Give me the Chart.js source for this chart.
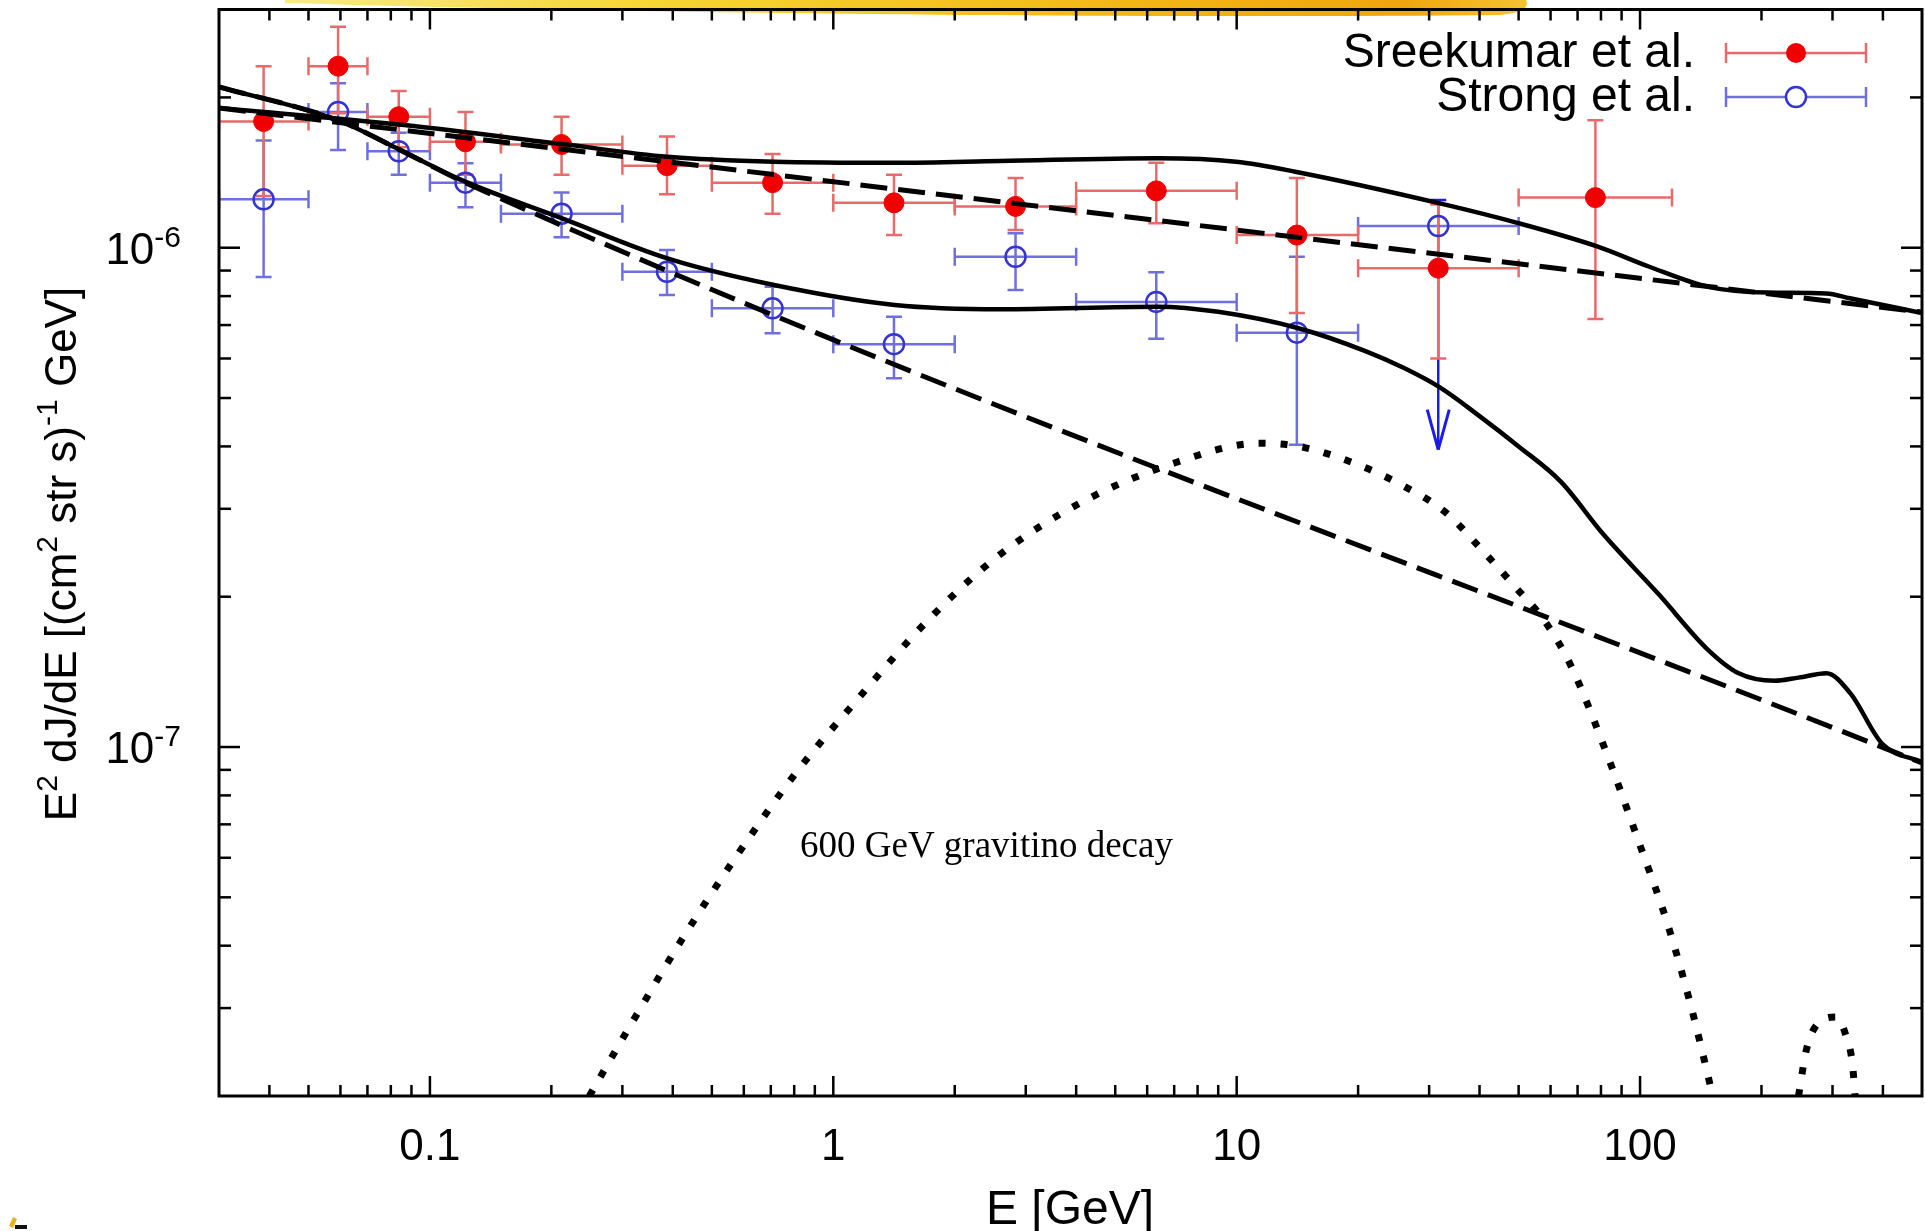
<!DOCTYPE html>
<html>
<head>
<meta charset="utf-8">
<title>Diffuse gamma-ray background</title>
<script src="https://cdn.jsdelivr.net/npm/chart.js@4.4.1/dist/chart.umd.min.js"></script>
<style>
  html, body { margin: 0; padding: 0; background: #fff; }
  #wrap { width: 1925px; height: 1231px; }
</style>
</head>
<body>
<div id="wrap"><canvas id="spectrum" width="1925" height="1231"></canvas></div>
<script>
// energy bins in GeV, shared by both data sets
const binLow  = [0.03, 0.05, 0.07, 0.1, 0.15, 0.3, 0.5, 1, 2, 4, 10, 20, 50];
const binHigh = [0.05, 0.07, 0.1, 0.15, 0.3, 0.5, 1, 2, 4, 10, 20, 50, 120];
const binMid  = [0.0387, 0.0592, 0.0837, 0.1225, 0.212, 0.387, 0.707, 1.414, 2.83, 6.32, 14.1, 31.6, 77.5];

// Sreekumar et al.
const sreekumar     = [1.79e-6, 2.31e-6, 1.83e-6, 1.63e-6, 1.61e-6, 1.46e-6, 1.35e-6, 1.23e-6, 1.21e-6, 1.30e-6, 1.06e-6, 9.1e-7, 1.26e-6];
const sreekumarLow  = [1.27e-6, 1.86e-6, 1.59e-6, 1.40e-6, 1.40e-6, 1.28e-6, 1.17e-6, 1.06e-6, 1.085e-6, 1.12e-6, 7.4e-7, 6.0e-7, 7.2e-7];
const sreekumarHigh = [2.31e-6, 2.77e-6, 2.06e-6, 1.87e-6, 1.83e-6, 1.67e-6, 1.54e-6, 1.40e-6, 1.38e-6, 1.48e-6, 1.38e-6, 1.22e-6, 1.80e-6];

// Strong et al. (first 12 bins); the last one only has an upper limit
const strong      = [1.25e-6, 1.87e-6, 1.56e-6, 1.35e-6, 1.17e-6, 8.95e-7, 7.56e-7, 6.41e-7, 9.59e-7, 7.79e-7, 6.76e-7, 1.105e-6];
const strongLow   = [8.74e-7, 1.57e-6, 1.40e-6, 1.205e-6, 1.05e-6, 8.04e-7, 6.74e-7, 5.48e-7, 8.23e-7, 6.57e-7, 4.03e-7, 3.94e-7];
const strongHigh  = [1.64e-6, 2.135e-6, 1.70e-6, 1.476e-6, 1.29e-6, 9.89e-7, 8.35e-7, 7.27e-7, 1.069e-6, 8.93e-7, 9.59e-7, 1.246e-6];
const strongLimit = [false, false, false, false, false, false, false, false, false, false, false, true];

// astrophysical background fits (dashed)
const bgSreekumarE = [0.03, 500];
const bgSreekumar  = [1.904e-6, 7.43e-7];
const bgStrongE    = [0.03, 0.0591, 0.0843, 0.1224, 500];
const bgStrong     = [2.10e-6, 1.80e-6, 1.57e-6, 1.35e-6, 9.29e-8];

// gravitino decay signal (dotted), null splits the two humps
const signalE = [0.2484, 0.3222, 0.4264, 0.579, 0.8065, 1.152, 1.689, 2.539, 4.121, 7.04, 11.41, 14.45, 19.76, 25.97, 32.98, 40.03, 49.11, 58.24, 67.52, 82.87, 99.45, 116.6, 133.7, 151.5,
                 200,
                 247.1, 258.6, 276.7, 306.5, 324.5, 335.9, 341.3];
const signal  = [2.0e-8, 2.87e-8, 4.18e-8, 6.09e-8, 8.86e-8, 1.25e-7, 1.77e-7, 2.40e-7, 3.09e-7, 3.71e-7, 4.06e-7, 3.99e-7, 3.69e-7, 3.33e-7, 2.95e-7, 2.51e-7, 2.09e-7, 1.78e-7, 1.45e-7, 9.65e-8, 6.43e-8, 4.46e-8, 3.03e-8, 2.0e-8,
                 null,
                 2.0e-8, 2.48e-8, 2.80e-8, 2.88e-8, 2.63e-8, 2.33e-8, 2.0e-8];

// background + signal (solid)
const totalSreekumarE = [0.03, 0.0863, 0.2127, 0.388, 0.713, 1.42, 2.592, 6.37, 9.97, 13.97, 31.9, 50.17, 78.6, 105.4, 147.6, 206.7, 289.5, 331.3, 500];
const totalSreekumar  = [1.905e-6, 1.761e-6, 1.613e-6, 1.521e-6, 1.487e-6, 1.480e-6, 1.492e-6, 1.511e-6, 1.487e-6, 1.42e-6, 1.227e-6, 1.119e-6, 1.005e-6, 9.16e-7, 8.35e-7, 8.13e-7, 8.10e-7, 7.92e-7, 7.40e-7];
const totalStrongE = [0.03, 0.0591, 0.0843, 0.1224, 0.2127, 0.388, 0.713, 1.42, 2.592, 6.37, 9.0, 14.3, 20.93, 26.0, 31.9, 40.0, 50.0, 63.6, 81.0, 111.4, 146.3, 175.6, 215.6, 247.1, 289.7, 332.0, 398.4, 500];
const totalStrong  = [2.10e-6, 1.80e-6, 1.57e-6, 1.356e-6, 1.145e-6, 9.52e-7, 8.42e-7, 7.68e-7, 7.53e-7, 7.62e-7, 7.44e-7, 6.89e-7, 6.20e-7, 5.74e-7, 5.25e-7, 4.60e-7, 4.00e-7, 3.40e-7, 2.67e-7, 2.02e-7, 1.575e-7, 1.405e-7, 1.357e-7, 1.377e-7, 1.405e-7, 1.282e-7, 1.015e-7, 9.33e-8];

// axis labels
const xTickLabels = [[0.1, '0.1'], [1, '1'], [10, '10'], [100, '100']];
const yTickLabels = [[1e-6, '-6'], [1e-7, '-7']];

const SANS = '"Liberation Sans", Arial, Helvetica, sans-serif';
const RED = '#f00000';
const RED_BAR = '#e86a6a';
const BLUE = '#3434d2';
const BLUE_BAR = '#6f6fe0';

function pts(xs, ys) {
  return xs.map((x, i) => ({ x: x, y: ys[i] }));
}

function line(ctx, x0, y0, x1, y1) {
  ctx.beginPath();
  ctx.moveTo(x0, y0);
  ctx.lineTo(x1, y1);
  ctx.stroke();
}

// text with superscript pieces
function richWidth(ctx, parts, big, small) {
  let w = 0;
  parts.forEach(p => { ctx.font = p.sup ? small : big; w += ctx.measureText(p.t).width; });
  return w;
}
function drawRich(ctx, parts, x, y, big, small, rise) {
  parts.forEach(p => {
    ctx.font = p.sup ? small : big;
    ctx.fillText(p.t, x, p.sup ? y - rise : y);
    x += ctx.measureText(p.t).width;
  });
}

function drawErrorBars(chart, ys, lo, hi, colour, limits) {
  const ctx = chart.ctx, xs = chart.scales.x, yS = chart.scales.y;
  ctx.lineWidth = 2.5;
  for (let i = 0; i < ys.length; i++) {
    const px = xs.getPixelForValue(binMid[i]);
    const py = yS.getPixelForValue(ys[i]);
    const x0 = xs.getPixelForValue(binLow[i]);
    const x1 = xs.getPixelForValue(binHigh[i]);
    const yTop = yS.getPixelForValue(hi[i]);
    const yBot = yS.getPixelForValue(lo[i]);
    const limit = limits && limits[i];
    ctx.strokeStyle = colour;
    line(ctx, x0, py, x1, py);
    line(ctx, x0, py - 9, x0, py + 9);
    line(ctx, x1, py - 9, x1, py + 9);
    if (limit) ctx.strokeStyle = '#1c1ce8';
    line(ctx, px, yTop, px, yBot);
    line(ctx, px - 8, yTop, px + 8, yTop);
    if (limit) {
      ctx.lineWidth = 3;
      line(ctx, px - 11, yBot - 40, px, yBot);
      line(ctx, px + 11, yBot - 40, px, yBot);
      ctx.lineWidth = 2.5;
    } else {
      line(ctx, px - 8, yBot, px + 8, yBot);
    }
  }
}

const plotDecor = {
  id: 'plotDecor',
  beforeDraw(chart) {
    const ctx = chart.ctx;
    ctx.save();
    // yellow brush stroke along the top edge
    const g = ctx.createLinearGradient(285, 0, 1526, 0);
    g.addColorStop(0, '#f8ea86');
    g.addColorStop(0.3, '#f6d632');
    g.addColorStop(0.7, '#f2b514');
    g.addColorStop(0.9, '#f0a60e');
    g.addColorStop(1, '#f4c230');
    ctx.fillStyle = g;
    ctx.beginPath();
    ctx.moveTo(285, 0);
    ctx.lineTo(1526, 0);
    ctx.quadraticCurveTo(1532, 12, 1500, 15);
    ctx.bezierCurveTo(1200, 18, 700, 15, 285, 3);
    ctx.closePath();
    ctx.fill();
    // small mark in the lower left corner
    ctx.fillStyle = '#e9b21c';
    ctx.beginPath();
    ctx.moveTo(9, 1226); ctx.lineTo(13, 1217); ctx.lineTo(17, 1219); ctx.lineTo(13, 1228);
    ctx.closePath();
    ctx.fill();
    ctx.fillStyle = '#111';
    ctx.fillRect(15, 1225, 12, 4);
    ctx.restore();
  },
  beforeDatasetsDraw(chart) {
    const ctx = chart.ctx, a = chart.chartArea;
    ctx.save();
    ctx.beginPath();
    ctx.rect(a.left, a.top, a.right - a.left, a.bottom - a.top);
    ctx.clip();
    drawErrorBars(chart, strong, strongLow, strongHigh, BLUE_BAR, strongLimit);
    drawErrorBars(chart, sreekumar, sreekumarLow, sreekumarHigh, RED_BAR, null);
    ctx.restore();
  },
  afterDraw(chart) {
    const ctx = chart.ctx, a = chart.chartArea;
    const xs = chart.scales.x, yS = chart.scales.y;
    ctx.save();
    ctx.strokeStyle = '#000';
    ctx.fillStyle = '#000';

    // ticks pointing inwards, mirrored on the opposite side
    ctx.lineWidth = 2.5;
    for (let d = -2; d <= 2; d++) {
      for (let m = 1; m <= 9; m++) {
        const v = m * Math.pow(10, d);
        if (v <= 0.0301 || v >= 499) continue;
        const px = xs.getPixelForValue(v);
        const len = m === 1 ? 20 : 11;
        line(ctx, px, a.bottom, px, a.bottom - len);
        line(ctx, px, a.top, px, a.top + len);
      }
    }
    for (let d = -8; d <= -6; d++) {
      for (let m = 1; m <= 9; m++) {
        const v = m * Math.pow(10, d);
        if (v <= 2.01e-8 || v >= 2.99e-6) continue;
        const py = yS.getPixelForValue(v);
        const len = m === 1 ? 21 : 12;
        line(ctx, a.left, py, a.left + len, py);
        line(ctx, a.right, py, a.right - len, py);
      }
    }

    // frame
    ctx.lineWidth = 3;
    ctx.strokeRect(a.left, a.top, a.right - a.left, a.bottom - a.top);

    // x tick labels
    ctx.font = '44px ' + SANS;
    ctx.textAlign = 'center';
    ctx.textBaseline = 'alphabetic';
    xTickLabels.forEach(([v, t]) => ctx.fillText(t, xs.getPixelForValue(v), 1160));

    // y tick labels, 10 with a superscript exponent
    ctx.textAlign = 'left';
    yTickLabels.forEach(([v, e]) => {
      const py = yS.getPixelForValue(v);
      const parts = [{ t: '10' }, { t: e, sup: true }];
      const big = '44px ' + SANS, small = '30px ' + SANS;
      const w = richWidth(ctx, parts, big, small);
      drawRich(ctx, parts, 181 - w, py + 16, big, small, 17);
    });

    // axis titles
    ctx.font = '48px ' + SANS;
    ctx.textAlign = 'center';
    ctx.fillText('E [GeV]', 1070, 1224);

    const title = [{ t: 'E' }, { t: '2', sup: true }, { t: ' dJ/dE [(cm' }, { t: '2', sup: true },
                   { t: ' str s)' }, { t: '-1', sup: true }, { t: ' GeV]' }];
    const tBig = '44px ' + SANS, tSmall = '30px ' + SANS;
    ctx.save();
    ctx.translate(76, 554);
    ctx.rotate(-Math.PI / 2);
    ctx.textAlign = 'left';
    const tw = richWidth(ctx, title, tBig, tSmall);
    drawRich(ctx, title, -tw / 2, 0, tBig, tSmall, 19);
    ctx.restore();

    // legend
    ctx.font = '48px ' + SANS;
    ctx.textAlign = 'right';
    ctx.fillText('Sreekumar et al.', 1695, 67);
    ctx.fillText('Strong et al.', 1695, 111);
    ctx.lineWidth = 2.5;
    ctx.strokeStyle = RED_BAR;
    line(ctx, 1726, 53, 1866, 53);
    line(ctx, 1726, 43, 1726, 63);
    line(ctx, 1866, 43, 1866, 63);
    ctx.fillStyle = RED;
    ctx.beginPath();
    ctx.arc(1796, 53, 10, 0, Math.PI * 2);
    ctx.fill();
    ctx.strokeStyle = BLUE_BAR;
    line(ctx, 1726, 97, 1866, 97);
    line(ctx, 1726, 87, 1726, 107);
    line(ctx, 1866, 87, 1866, 107);
    ctx.strokeStyle = BLUE;
    ctx.fillStyle = '#fff';
    ctx.beginPath();
    ctx.arc(1796, 97, 10, 0, Math.PI * 2);
    ctx.fill();
    ctx.stroke();

    // annotation for the signal curve
    ctx.fillStyle = '#000';
    ctx.textAlign = 'left';
    ctx.font = '37px "Liberation Serif", "Times New Roman", serif';
    ctx.fillText('600 GeV gravitino decay', 800, 857);
    ctx.restore();
  }
};

const curve = (label, xs, ys, width, dash) => ({
  label: label,
  data: pts(xs, ys),
  borderColor: '#000',
  backgroundColor: '#000',
  borderWidth: width,
  borderDash: dash,
  borderCapStyle: 'butt',
  pointRadius: 0,
  fill: false,
  spanGaps: false,
  cubicInterpolationMode: 'monotone',
  order: 0
});

new Chart(document.getElementById('spectrum'), {
  type: 'line',
  data: {
    datasets: [
      curve('Background (Sreekumar)', bgSreekumarE, bgSreekumar, 5, [27, 11]),
      curve('Background (Strong)', bgStrongE, bgStrong, 5, [27, 11]),
      curve('600 GeV gravitino decay', signalE, signal, 7, [7, 15]),
      curve('Total (Sreekumar)', totalSreekumarE, totalSreekumar, 4.5, []),
      curve('Total (Strong)', totalStrongE, totalStrong, 4.5, []),
      {
        label: 'Sreekumar et al.',
        data: pts(binMid, sreekumar),
        showLine: false,
        pointRadius: 10,
        pointBackgroundColor: RED,
        pointBorderColor: RED,
        pointBorderWidth: 1,
        order: 1
      },
      {
        label: 'Strong et al.',
        data: pts(binMid.slice(0, strong.length), strong),
        showLine: false,
        pointRadius: 10,
        pointBackgroundColor: 'rgba(255,255,255,0)',
        pointBorderColor: BLUE,
        pointBorderWidth: 2.5,
        order: 1
      }
    ]
  },
  options: {
    responsive: false,
    animation: false,
    devicePixelRatio: 1,
    layout: { autoPadding: false, padding: { left: 219, right: 3, top: 9.5, bottom: 135 } },
    plugins: {
      legend: { display: false },
      tooltip: { enabled: false }
    },
    scales: {
      x: { type: 'logarithmic', min: 0.03, max: 500, display: false },
      y: { type: 'logarithmic', min: 2e-8, max: 3e-6, display: false }
    }
  },
  plugins: [plotDecor]
});
</script>
</body>
</html>
